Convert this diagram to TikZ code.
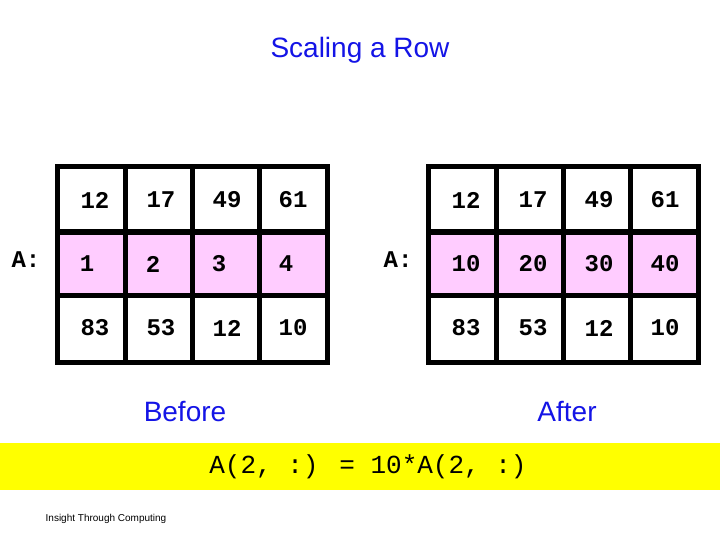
\documentclass[tikz,border=0pt]{standalone}
\usepackage{fontspec}
\setmainfont{Liberation Sans}
\newfontfamily\cour{Liberation Mono}
\definecolor{pinkc}{RGB}{255,204,255}
\definecolor{titleblue}{RGB}{20,20,230}
\definecolor{band}{RGB}{255,255,0}
\begin{document}
\begin{tikzpicture}[x=1pt,y=-1pt,
  num/.style={font=\cour\bfseries\fontsize{24}{24}\selectfont,inner sep=0pt},
  ttl/.style={font=\fontsize{28}{28}\selectfont,text=titleblue,inner sep=0pt},
  grid/.style={line width=5pt,draw=black}]
\useasboundingbox (0,0) rectangle (720,540);
\node[ttl] (title) at (360,50) {Scaling a Row};
% left grid
\fill[pinkc] (57,232) rectangle (327,295);
\draw[grid] (57,167) rectangle (327,362);
\foreach \x in {125,192,259} \draw[grid] (\x,167) -- (\x,362);
\foreach \y in {232,295} \draw[grid] (57,\y) -- (327,\y);
% right grid
\fill[pinkc] (428,232) rectangle (698,295);
\draw[grid] (428,167) rectangle (698,362);
\foreach \x in {496,563,630} \draw[grid] (\x,167) -- (\x,362);
\foreach \y in {232,295} \draw[grid] (428,\y) -- (698,\y);
% left numbers
\node[num] (l11) at (95,200) {12};
\node[num] (l12) at (161,200) {17};
\node[num] (l13) at (227,200) {49};
\node[num] (l14) at (293,200) {61};
\node[num] (l21) at (87,264) {1};
\node[num] (l22) at (153,264) {2};
\node[num] (l23) at (219,264) {3};
\node[num] (l24) at (286,264) {4};
\node[num] (l31) at (95,328) {83};
\node[num] (l32) at (161,328) {53};
\node[num] (l33) at (227,328) {12};
\node[num] (l34) at (293,328) {10};
% right numbers
\node[num] (r11) at (466,200) {12};
\node[num] (r12) at (533,200) {17};
\node[num] (r13) at (599,200) {49};
\node[num] (r14) at (665,200) {61};
\node[num] (r21) at (466,264) {10};
\node[num] (r22) at (533,264) {20};
\node[num] (r23) at (599,264) {30};
\node[num] (r24) at (665,264) {40};
\node[num] (r31) at (466,328) {83};
\node[num] (r32) at (533,328) {53};
\node[num] (r33) at (599,328) {12};
\node[num] (r34) at (665,328) {10};
\node[num] (al) at (26,260) {A:};
\node[num] (ar) at (398,260) {A:};
\node[ttl] (before) at (185,412) {Before};
\node[ttl] (after) at (567,412) {After};
\fill[band] (0,443) rectangle (720,490);
\node[inner sep=0pt,font=\cour\fontsize{26}{26}\selectfont] (eq) at (368,467) {A(2, :) = 10*A(2, :)};
\node[inner sep=0pt,font=\fontsize{10}{10}\selectfont] (foot) at (106,519) {Insight Through Computing};
\end{tikzpicture}
\end{document}
